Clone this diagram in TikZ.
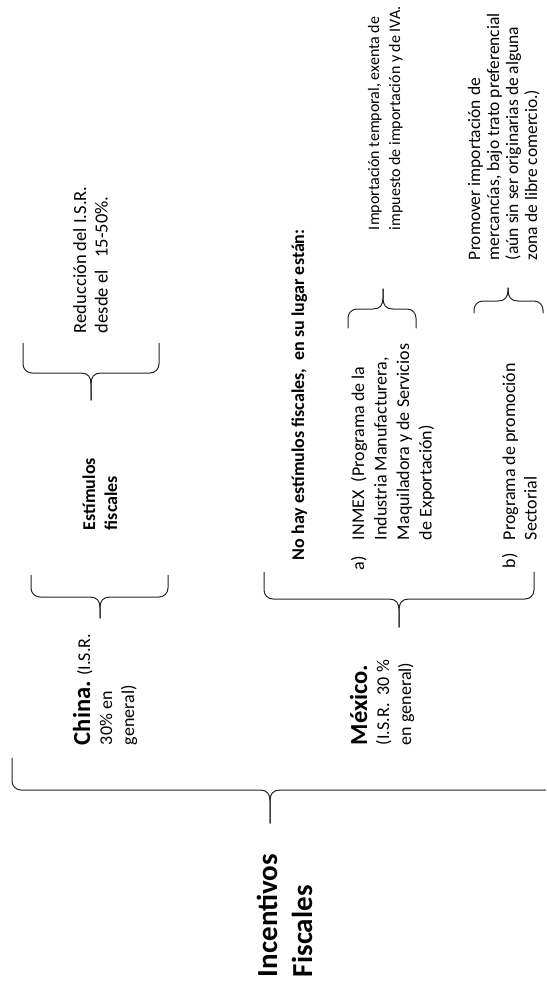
\documentclass[tikz,border=0pt]{standalone}
\usepackage{fontspec}
\setmainfont{Carlito}
\newcommand{\mybrace}[7]{%
  \draw[brc] (#1,#4) -- (#1,{#5-9*(#7)}) .. controls (#1,{#5-4*(#7)}) and ({#1+4},#5) .. ({#1+9},#5)
     -- ({#2-10},#5) .. controls ({#2-3},#5) and (#2,{#5+4*(#7)}) .. (#2,{#5+11*(#7)}) -- (#2,#6);
  \draw[brc] (#3,#4) -- (#3,{#5-9*(#7)}) .. controls (#3,{#5-4*(#7)}) and ({#3-4},#5) .. ({#3-9},#5)
     -- ({#2+10},#5) .. controls ({#2+3},#5) and (#2,{#5+4*(#7)}) .. (#2,{#5+11*(#7)}) -- (#2,#6);
}
\tikzset{
  txt/.style={rotate=90, anchor=north west, inner sep=0pt, outer sep=0pt, align=left, text=black},
  norm/.style={txt, font=\fontsize{18}{22}\selectfont},
  bnorm/.style={txt, font=\bfseries\fontsize{18}{22}\selectfont},
  brc/.style={draw=black!85, line width=1pt, line cap=round, line join=round},
}
\begin{document}
\begin{tikzpicture}[x=1pt,y=-1pt]
\useasboundingbox (0,0) rectangle (546,982);
\fill[white] (0,0) rectangle (546,982);
\clip (0,0) rectangle (546,982);

% texts
\node[txt, font=\bfseries\fontsize{29}{35}\selectfont] (root) at (252.5,977) {\strut Incentivos\\Fiscales};
\node[norm] (china) at (71,745) {\rule{0pt}{19pt}{\bfseries\fontsize{24.5}{22}\selectfont China.} (I.S.R.\\30\% en\\general)};
\node[norm] (mexico) at (348,745) {\rule{0pt}{19pt}{\bfseries\fontsize{24.5}{22}\selectfont México.}\\(I.S.R.\ \ 30 \%\\en general)};
\node[bnorm] (estim) at (79.6,530) {\strut Estímulos\\fiscales};
\node[txt, font=\fontsize{18.5}{21.5}\selectfont] (reduc) at (71,333) {\strut Reducción del I.S.R.\\desde el\ \ \ 15-50\%.};
\node[bnorm] (nohay) at (288.6,560) {\strut No hay estímulos fiscales,\ \ en su lugar están:};
\node[norm] (la) at (348.6,570) {\strut a)};
\node[txt, font=\fontsize{18}{22.5}\selectfont] (inmex) at (348.3,540) {\strut INMEX\ \ (Programa de la\\Industria Manufacturera,\\Maquiladora y de Servicios\\de Exportación)};
\node[norm] (lb) at (499.6,568) {\strut b)};
\node[txt, font=\fontsize{18}{21.5}\selectfont] (promo) at (500,540) {\strut Programa de promoción\\Sectorial};
\node[txt, font=\fontsize{16}{21}\selectfont] (impo) at (364.3,230) {\strut Importación temporal, exenta de\\impuesto de importación y de IVA.};
\node[txt, font=\fontsize{17.5}{19}\selectfont] (promov) at (466.7,260) {\strut Promover importación de\\mercancías, bajo trato preferencial\\(aún sin ser originarias de alguna\\zona de libre comercio.)};

% braces
\mybrace{12}{270}{600}{758}{790}{823}{1}
\mybrace{31}{100}{168}{575}{597}{618}{1}
\mybrace{23}{91}{159}{343}{373}{400}{1}
\mybrace{264}{399}{534}{572}{599}{627}{1}
\mybrace{348}{383}{416}{328}{309}{289}{-1}
\mybrace{474}{508}{543}{313}{301}{288}{-1}
\end{tikzpicture}
\end{document}
